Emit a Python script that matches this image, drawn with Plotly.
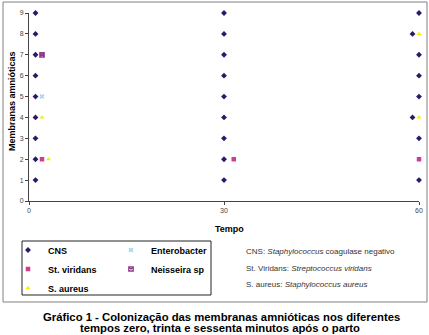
import plotly.graph_objects as go

# ---- data ----
cns_x = [1, 1, 1, 1, 1, 1, 1, 1, 1,
         30, 30, 30, 30, 30, 30, 30, 30, 30,
         60, 60, 59, 60, 60, 60, 59, 60]
cns_y = [1, 2, 3, 4, 5, 6, 7, 8, 9,
         1, 2, 3, 4, 5, 6, 7, 8, 9,
         1, 3, 4, 5, 6, 7, 8, 9]
viridans_x = [2, 31.5, 60]
viridans_y = [2, 2, 2]
aureus_x = [3, 2, 60, 60]
aureus_y = [2, 4, 4, 8]
entero_x = [2]
entero_y = [5]
neisseira_x = [2]
neisseira_y = [7]

y_ticks = [0, 1, 2, 3, 4, 5, 6, 7, 8, 9]
x_ticks = [0, 30, 60]

W, H = 429, 335
ML, MR, MT, MB = 29, 10, 13, 134
PW = W - ML - MR
PH = H - MT - MB


def px(p):
    return (p - ML) / PW


def py(q):
    return (MT + PH - q) / PH


FONT = "Arial, Liberation Sans, sans-serif"

fig = go.Figure()
fig.add_trace(go.Scatter(x=cns_x, y=cns_y, mode="markers", name="CNS",
                         marker=dict(symbol="diamond", size=4.5, color="#2B1A6B"),
                         cliponaxis=False, legend="legend"))
fig.add_trace(go.Scatter(x=viridans_x, y=viridans_y, mode="markers", name="St. viridans",
                         marker=dict(symbol="square", size=4.5, color="#D23C8E"),
                         cliponaxis=False, legend="legend"))
fig.add_trace(go.Scatter(x=aureus_x, y=aureus_y, mode="markers", name="S. aureus",
                         marker=dict(symbol="triangle-up", size=4.5, color="#F5F000"),
                         cliponaxis=False, legend="legend"))
fig.add_trace(go.Scatter(x=entero_x, y=entero_y, mode="markers", name="Enterobacter",
                         marker=dict(symbol="x", size=4.5, color="#A8D8EE"),
                         cliponaxis=False, legend="legend2"))
fig.add_trace(go.Scatter(x=neisseira_x, y=neisseira_y, mode="markers", name="Neisseira sp",
                         marker=dict(symbol="square-x-open", size=4.5, color="#8E3A8A",
                                     line=dict(color="#8E3A8A", width=1.2)),
                         cliponaxis=False, legend="legend2"))

shapes = [
    dict(type="rect", xref="paper", yref="paper",
         x0=px(3), x1=px(427), y0=py(302), y1=py(2),
         line=dict(color="#808080", width=1), fillcolor="rgba(0,0,0,0)", layer="below"),
    dict(type="rect", xref="paper", yref="paper",
         x0=px(22), x1=px(211), y0=py(295), y1=py(241),
         line=dict(color="#222222", width=1), fillcolor="rgba(0,0,0,0)", layer="below"),
]

annotations = [
    dict(text="<b>Tempo</b>", x=px(230), y=py(229), xref="paper", yref="paper",
         showarrow=False, xanchor="center", yanchor="middle",
         font=dict(family=FONT, size=9, color="#000")),
    dict(text="<b>Membranas amnióticas</b>", x=px(12), y=py(101), xref="paper", yref="paper",
         showarrow=False, xanchor="center", yanchor="middle", textangle=-90,
         font=dict(family=FONT, size=9, color="#000")),
    dict(text="CNS: <i>Staphylococcus</i> coagulase negativo", x=px(244), y=py(252),
         xref="paper", yref="paper", showarrow=False, xanchor="left", yanchor="middle",
         font=dict(family=FONT, size=8, color="#333")),
    dict(text="St. Viridans: <i>Streptococcus viridans</i>", x=px(244), y=py(268),
         xref="paper", yref="paper", showarrow=False, xanchor="left", yanchor="middle",
         font=dict(family=FONT, size=8, color="#333")),
    dict(text="S. aureus: <i>Staphylococcus aureus</i>", x=px(244), y=py(284),
         xref="paper", yref="paper", showarrow=False, xanchor="left", yanchor="middle",
         font=dict(family=FONT, size=8, color="#333")),
    dict(text="<b>Gráfico 1 - Colonização das membranas amnióticas nos diferentes</b>",
         x=px(221), y=py(317), xref="paper", yref="paper", showarrow=False,
         xanchor="center", yanchor="middle", font=dict(family=FONT, size=11.3, color="#000")),
    dict(text="<b>tempos zero, trinta e sessenta minutos após o parto</b>",
         x=px(220), y=py(328), xref="paper", yref="paper", showarrow=False,
         xanchor="center", yanchor="middle", font=dict(family=FONT, size=11.3, color="#000")),
]

legend_font = dict(family=FONT, size=9, color="#000", weight="bold")

fig.update_layout(
    width=W, height=H,
    margin=dict(l=ML, r=MR, t=MT, b=MB, pad=0, autoexpand=False),
    paper_bgcolor="white", plot_bgcolor="white",
    font=dict(family=FONT, size=7, color="#444"),
    showlegend=True,
    legend=dict(x=px(8), y=py(235.5), xanchor="left", yanchor="top",
                orientation="v", font=legend_font, bgcolor="rgba(0,0,0,0)",
                itemwidth=30, tracegroupgap=0),
    legend2=dict(x=px(111), y=py(235.5), xanchor="left", yanchor="top",
                 orientation="v", font=legend_font, bgcolor="rgba(0,0,0,0)",
                 itemwidth=30, tracegroupgap=0),
    xaxis=dict(range=[0, 60], tickvals=x_ticks, ticktext=[str(v) for v in x_ticks],
               showgrid=False, zeroline=False, showline=True, linecolor="#444",
               linewidth=1, ticks="outside", ticklen=3, tickcolor="#444",
               tickfont=dict(family=FONT, size=7, color="#444")),
    yaxis=dict(range=[0, 9], tickvals=y_ticks, ticktext=[str(v) for v in y_ticks],
               showgrid=False, zeroline=False, showline=True, linecolor="#444",
               linewidth=1, ticks="outside", ticklen=3, tickcolor="#444",
               tickfont=dict(family=FONT, size=7, color="#444")),
    shapes=shapes,
    annotations=annotations,
)

fig.write_html("out.html")
